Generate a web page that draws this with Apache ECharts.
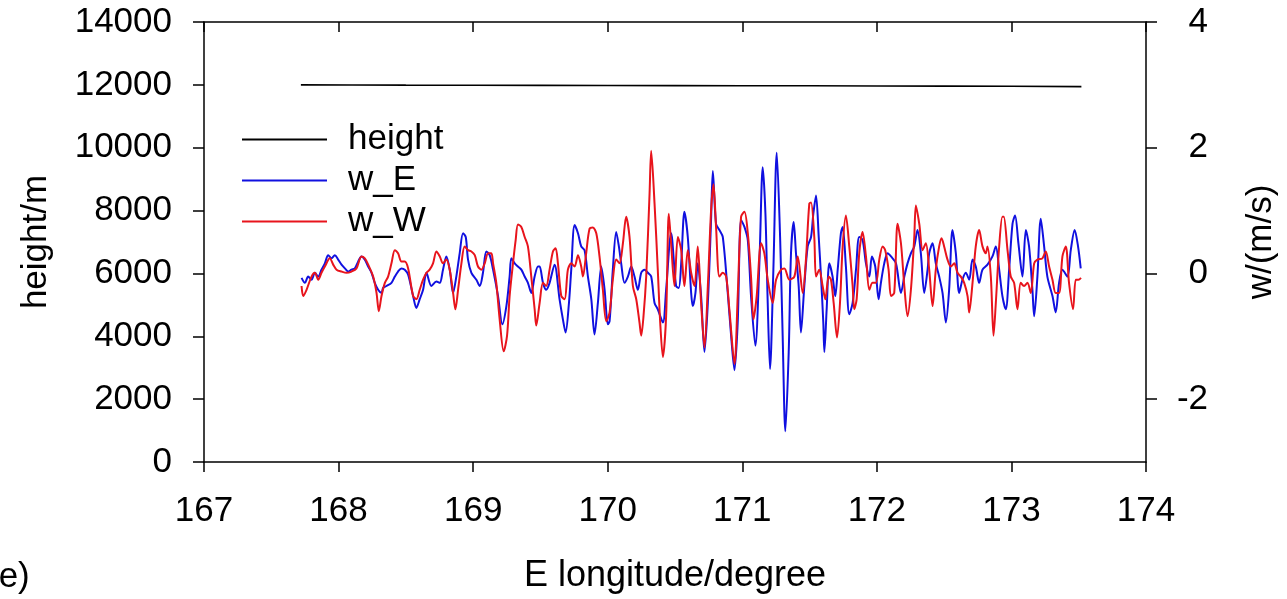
<!DOCTYPE html>
<html>
<head>
<meta charset="utf-8">
<script src="https://cdn.jsdelivr.net/npm/echarts@6/dist/echarts.min.js"></script>
<style>
html,body{margin:0;padding:0;background:#fff;}
#chart{width:1287px;height:599px;}
</style>
</head>
<body>
<div id="chart"></div>
<script>
// ---- data (longitude in degrees E, height in m, w in m/s) ----
const heightData = [
  [167.72,12000],[168.10,11995],[168.50,11990],[169.00,11988],[169.50,11985],[170.00,11980],
  [170.50,11975],[171.00,11972],[171.50,11970],[172.00,11965],[172.50,11960],[173.00,11955],[173.52,11945]
];
const wE = [
  [167.725,-0.07],[167.750,-0.15],[167.774,-0.05],[167.799,-0.10],[167.824,0.01],[167.849,-0.05],
  [167.873,0.06],[167.898,0.16],[167.923,0.29],[167.948,0.24],[167.972,0.29],[167.997,0.22],
  [168.022,0.14],[168.047,0.08],[168.071,0.03],[168.096,0.06],[168.121,0.08],[168.146,0.19],
  [168.170,0.27],[168.195,0.22],[168.220,0.11],[168.245,0.01],[168.269,-0.15],[168.294,-0.26],
  [168.319,-0.31],[168.331,-0.23],[168.356,-0.20],[168.393,-0.15],[168.418,-0.05],[168.442,0.03],
  [168.467,0.08],[168.492,0.06],[168.517,-0.02],[168.554,-0.36],[168.578,-0.55],[168.603,-0.41],
  [168.628,-0.26],[168.653,0.01],[168.690,-0.20],[168.727,-0.13],[168.752,-0.15],[168.776,0.06],
  [168.801,0.27],[168.826,0.06],[168.851,-0.31],[168.875,-0.05],[168.900,0.32],[168.925,0.64],
  [168.945,0.58],[168.962,0.22],[168.987,0.01],[169.024,-0.10],[169.049,-0.20],[169.073,0.01],
  [169.098,0.35],[169.123,0.29],[169.148,0.06],[169.185,-0.36],[169.217,-0.81],[169.247,-0.52],
  [169.271,-0.05],[169.284,0.24],[169.309,0.16],[169.333,0.11],[169.358,0.06],[169.383,-0.05],
  [169.407,-0.15],[169.432,-0.31],[169.457,-0.05],[169.482,0.11],[169.494,0.11],[169.519,-0.15],
  [169.543,-0.26],[169.568,-0.15],[169.605,0.14],[169.642,-0.41],[169.667,-0.73],[169.687,-0.94],
  [169.712,-0.47],[169.729,0.06],[169.754,0.77],[169.779,0.64],[169.803,0.43],[169.828,0.37],
  [169.853,-0.05],[169.878,-0.41],[169.902,-0.97],[169.927,-0.47],[169.952,0.11],[169.977,-0.26],
  [170.001,-0.81],[170.014,-0.76],[170.038,0.06],[170.063,0.66],[170.083,0.43],[170.100,0.16],
  [170.125,-0.15],[170.150,-0.05],[170.175,0.11],[170.199,-0.05],[170.224,-0.26],[170.249,0.01],
  [170.274,0.06],[170.298,0.01],[170.323,-0.05],[170.348,-0.47],[170.372,-0.57],[170.410,-0.78],
  [170.434,-0.26],[170.471,0.64],[170.508,-0.20],[170.528,-0.23],[170.546,0.16],[170.570,0.98],
  [170.595,0.58],[170.620,-0.31],[170.632,-0.52],[170.652,-0.31],[170.669,0.16],[170.694,-0.36],
  [170.719,-1.25],[170.744,-0.47],[170.768,0.85],[170.781,1.63],[170.805,0.79],[170.830,0.69],
  [170.855,0.58],[170.892,-0.31],[170.917,-0.99],[170.942,-1.54],[170.966,-0.78],[170.991,0.85],
  [171.016,0.74],[171.041,0.53],[171.065,-0.36],[171.097,-1.15],[171.127,0.16],[171.152,1.69],
  [171.172,0.95],[171.189,-0.47],[171.206,-1.52],[171.231,0.06],[171.256,1.92],[171.281,0.58],
  [171.300,-0.99],[171.320,-2.51],[171.345,-1.25],[171.362,0.32],[171.382,0.82],[171.399,0.32],
  [171.419,-0.20],[171.436,-0.94],[171.461,-0.20],[171.486,0.43],[171.511,0.58],[171.528,0.95],
  [171.548,1.24],[171.568,0.58],[171.585,-0.05],[171.602,-0.78],[171.610,-1.25],[171.627,-0.57],
  [171.647,0.16],[171.671,-0.05],[171.691,-0.36],[171.709,0.06],[171.733,0.64],[171.746,0.74],
  [171.770,0.11],[171.795,-0.65],[171.820,-0.47],[171.845,0.06],[171.869,0.58],[171.894,0.53],
  [171.919,0.16],[171.944,-0.05],[171.963,0.27],[171.988,0.11],[172.013,-0.41],[172.030,-0.15],
  [172.055,0.16],[172.080,0.32],[172.105,0.27],[172.142,0.16],[172.179,-0.31],[172.204,-0.05],
  [172.228,0.16],[172.253,0.32],[172.278,0.43],[172.302,0.69],[172.327,0.32],[172.352,-0.31],
  [172.377,0.06],[172.389,0.32],[172.414,0.48],[172.438,0.16],[172.463,-0.05],[172.488,-0.31],
  [172.513,-0.78],[172.537,-0.26],[172.562,0.69],[172.587,0.32],[172.612,-0.31],[172.636,-0.10],
  [172.661,0.01],[172.686,-0.10],[172.711,0.22],[172.735,0.11],[172.760,-0.15],[172.785,0.06],
  [172.822,0.14],[172.859,0.27],[172.884,0.43],[172.909,0.06],[172.933,-0.36],[172.958,-0.57],
  [172.983,0.06],[173.008,0.79],[173.027,0.92],[173.052,0.48],[173.082,-0.05],[173.107,0.69],
  [173.131,0.43],[173.156,-0.26],[173.169,-0.68],[173.193,-0.05],[173.218,0.87],[173.243,0.43],
  [173.267,-0.05],[173.305,-0.36],[173.329,-0.62],[173.354,-0.15],[173.379,0.06],[173.416,-0.05],
  [173.441,0.37],[173.470,0.69],[173.495,0.43],[173.515,0.08]
];
const wW = [
  [167.725,-0.20],[167.737,-0.36],[167.762,-0.26],[167.799,-0.05],[167.824,0.01],[167.849,-0.10],
  [167.873,0.01],[167.898,0.11],[167.935,0.24],[167.960,0.14],[167.985,0.06],[168.022,0.03],
  [168.059,0.01],[168.096,0.03],[168.133,0.08],[168.170,0.27],[168.195,0.24],[168.220,0.14],
  [168.257,-0.05],[168.282,-0.31],[168.299,-0.60],[168.319,-0.36],[168.344,-0.15],[168.368,-0.05],
  [168.393,0.16],[168.418,0.37],[168.442,0.32],[168.467,0.19],[168.492,0.19],[168.517,0.08],
  [168.554,-0.36],[168.578,-0.41],[168.603,-0.26],[168.628,-0.10],[168.653,0.01],[168.677,0.06],
  [168.702,0.16],[168.727,0.35],[168.752,0.27],[168.776,0.16],[168.801,0.22],[168.826,0.06],
  [168.851,-0.31],[168.868,-0.57],[168.888,-0.26],[168.913,0.16],[168.937,0.43],[168.962,0.37],
  [168.987,0.35],[169.012,0.29],[169.036,0.11],[169.061,0.06],[169.086,0.16],[169.111,0.32],
  [169.135,0.32],[169.148,0.16],[169.172,-0.15],[169.197,-0.73],[169.227,-1.24],[169.252,-0.99],
  [169.271,-0.36],[169.296,0.16],[169.316,0.53],[169.333,0.78],[169.358,0.74],[169.383,0.58],
  [169.407,0.43],[169.432,-0.05],[169.457,-0.57],[169.469,-0.83],[169.494,-0.47],[169.519,-0.15],
  [169.543,-0.20],[169.568,0.06],[169.593,0.35],[169.613,0.40],[169.630,0.16],[169.655,-0.36],
  [169.680,-0.41],[169.704,0.06],[169.729,0.16],[169.754,0.11],[169.779,0.29],[169.803,0.11],
  [169.816,-0.05],[169.840,0.32],[169.865,0.71],[169.890,0.73],[169.915,0.64],[169.939,0.27],
  [169.964,-0.26],[169.989,-0.76],[170.014,-0.62],[170.038,-0.10],[170.063,0.22],[170.088,0.16],
  [170.113,0.48],[170.137,0.90],[170.162,0.58],[170.187,-0.20],[170.212,-0.41],[170.236,-0.78],
  [170.249,-0.99],[170.266,-0.68],[170.286,-0.05],[170.311,1.27],[170.323,1.95],[170.348,1.11],
  [170.372,0.06],[170.390,-0.78],[170.410,-1.33],[170.434,-0.68],[170.454,0.95],[170.471,0.48],
  [170.496,-0.20],[170.521,0.58],[170.546,0.37],[170.570,-0.20],[170.595,0.37],[170.620,0.01],
  [170.645,-0.20],[170.669,0.43],[170.694,-0.47],[170.719,-1.18],[170.744,-0.20],[170.768,1.00],
  [170.786,1.42],[170.805,0.74],[170.830,-0.05],[170.855,0.01],[170.880,-0.05],[170.904,-0.57],
  [170.942,-1.44],[170.966,-0.36],[170.991,0.90],[171.016,0.98],[171.041,0.64],[171.065,-0.05],
  [171.083,-0.73],[171.107,-0.36],[171.140,0.48],[171.164,0.32],[171.189,-0.10],[171.226,-0.47],
  [171.251,-0.10],[171.288,0.06],[171.313,0.08],[171.350,-0.10],[171.387,-0.05],[171.412,0.27],
  [171.449,-0.31],[171.473,0.22],[171.498,1.11],[171.511,1.13],[171.535,0.58],[171.548,-0.05],
  [171.572,0.06],[171.597,-0.20],[171.617,-0.41],[171.642,-0.05],[171.659,-0.10],[171.679,-0.47],
  [171.704,-1.02],[171.726,-0.47],[171.746,0.43],[171.770,0.92],[171.795,0.43],[171.820,-0.20],
  [171.832,-0.57],[171.850,-0.41],[171.869,0.32],[171.894,0.66],[171.919,0.27],[171.944,-0.26],
  [171.968,-0.15],[171.993,-0.15],[172.018,0.22],[172.043,0.43],[172.062,0.37],[172.087,0.06],
  [172.105,-0.36],[172.129,-0.31],[172.154,0.79],[172.179,0.48],[172.204,-0.20],[172.228,-0.68],
  [172.253,-0.26],[172.278,0.58],[172.290,1.08],[172.315,0.79],[172.340,0.37],[172.364,0.48],
  [172.389,0.06],[172.414,-0.52],[172.438,0.06],[172.463,0.43],[172.481,0.56],[172.500,0.43],
  [172.525,0.22],[172.550,0.11],[172.575,0.16],[172.599,0.01],[172.624,-0.05],[172.649,-0.15],
  [172.674,-0.36],[172.686,-0.62],[172.711,-0.15],[172.735,0.43],[172.760,0.69],[172.785,0.43],
  [172.810,0.32],[172.822,0.43],[172.847,-0.05],[172.867,-0.99],[172.884,-0.47],[172.909,0.43],
  [172.933,0.90],[172.943,0.90],[172.971,0.37],[172.995,-0.05],[173.020,-0.15],[173.045,-0.57],
  [173.069,-0.15],[173.094,-0.20],[173.119,-0.15],[173.144,-0.31],[173.169,0.16],[173.193,0.22],
  [173.230,0.24],[173.255,0.35],[173.280,0.11],[173.305,-0.10],[173.329,-0.31],[173.354,-0.31],
  [173.379,0.27],[173.404,0.43],[173.428,-0.15],[173.458,-0.57],[173.478,-0.10],[173.498,-0.10],
  [173.517,-0.07]
];
const xTicks = [167,168,169,170,171,172,173,174];
const wTicks = [-2,0,2,4];
const seriesNames = ['height','w_E','w_W'];
const xName = 'E longitude/degree';
const yLeftName = 'height/m';
const yRightName = 'w/(m/s)';
const panelTag = '(e)';

const FONT = '"Liberation Sans", Arial, sans-serif';
const axisLine = {show:true, onZero:false, lineStyle:{color:'#000', width:1.5}};
const plain = v => String(v);

const chart = echarts.init(document.getElementById('chart'), null, {renderer:'canvas'});
chart.setOption({
  animation:false,
  backgroundColor:'#fff',
  textStyle:{fontFamily:FONT, color:'#000'},
  grid:{left:204, right:140, top:22, bottom:133, containLabel:false},
  legend:{
    orient:'vertical', left:242, top:119, padding:0, itemGap:0,
    itemWidth:85, itemHeight:2, icon:'rect',
    data:seriesNames,
    textStyle:{fontFamily:FONT, fontSize:35, color:'#000', lineHeight:41, padding:[0,0,0,16]}
  },
  xAxis:[{
    type:'value', min:167, max:174, interval:1, position:'bottom',
    axisLine:axisLine,
    axisTick:{show:true, inside:false, length:10, lineStyle:{color:'#000', width:1.5}},
    axisLabel:{fontFamily:FONT, fontSize:35, color:'#000', margin:32, formatter:plain},
    splitLine:{show:false},
    name:xName, nameLocation:'middle', nameGap:96,
    nameTextStyle:{fontFamily:FONT, fontSize:36, color:'#000'}
  },{
    type:'value', min:167, max:174, interval:1, position:'top',
    axisLine:axisLine,
    axisTick:{show:true, inside:true, length:10, lineStyle:{color:'#000', width:1.5}},
    axisLabel:{show:false}, splitLine:{show:false}
  }],
  yAxis:[{
    type:'value', min:0, max:14000, interval:2000, position:'left',
    axisLine:axisLine,
    axisTick:{show:true, inside:false, length:11, lineStyle:{color:'#000', width:1.5}},
    axisLabel:{fontFamily:FONT, fontSize:35, color:'#000', margin:32, formatter:plain},
    splitLine:{show:false},
    name:yLeftName, nameLocation:'middle', nameGap:150, nameRotate:90,
    nameTextStyle:{fontFamily:FONT, fontSize:35, color:'#000'}
  },{
    type:'value', min:-3, max:4, interval:1, position:'right',
    axisLine:axisLine,
    axisTick:{show:true, inside:false, length:11, customValues:wTicks, lineStyle:{color:'#000', width:1.5}},
    axisLabel:{fontFamily:FONT, fontSize:35, color:'#000', margin:62, align:'right', customValues:wTicks, formatter:plain},
    splitLine:{show:false},
    name:yRightName, nameLocation:'middle', nameGap:98, nameRotate:90,
    nameTextStyle:{fontFamily:FONT, fontSize:35, color:'#000'}
  }],
  graphic:[{
    type:'text', left:-13, top:560,
    style:{text:panelTag, font:'35px "Liberation Sans", Arial, sans-serif', fill:'#000'}
  }],
  series:[{
    name:seriesNames[0], type:'line', xAxisIndex:0, yAxisIndex:0, data:heightData,
    symbol:'none', lineStyle:{color:'#000', width:1.6}, itemStyle:{color:'#000'}
  },{
    name:seriesNames[1], type:'line', xAxisIndex:0, yAxisIndex:1, data:wE,
    symbol:'none', smooth:0.3, lineStyle:{color:'#1010e0', width:2}, itemStyle:{color:'#1010e0'}
  },{
    name:seriesNames[2], type:'line', xAxisIndex:0, yAxisIndex:1, data:wW,
    symbol:'none', smooth:0.3, lineStyle:{color:'#e8141c', width:2}, itemStyle:{color:'#e8141c'}
  }]
});
</script>
</body>
</html>
